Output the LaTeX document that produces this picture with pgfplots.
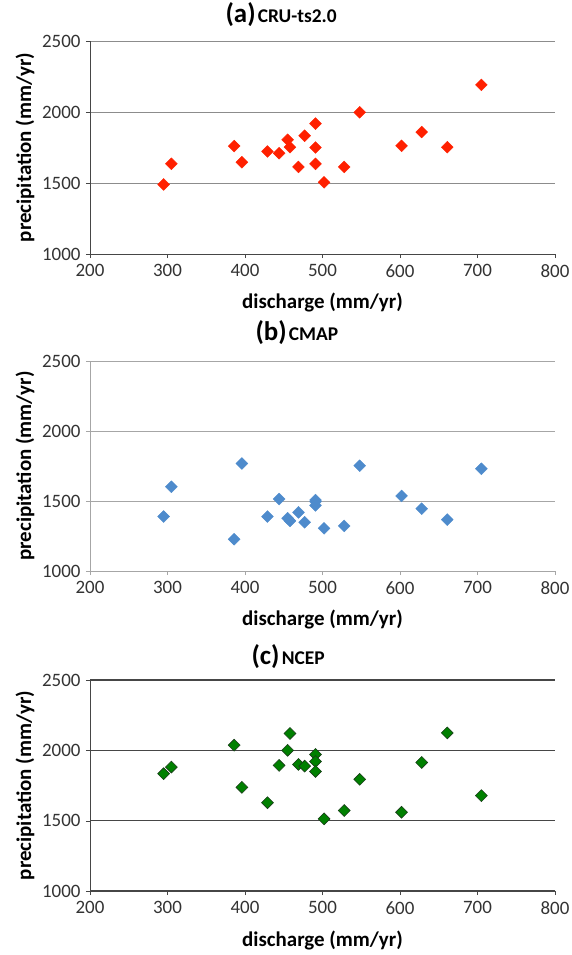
\documentclass[border=0pt]{standalone}
\usepackage{fontspec}
\setmainfont{Carlito}
\usepackage{pgfplots}
\usepackage{pgfplotstable}
\pgfplotsset{compat=1.18}

\definecolor{cru}{RGB}{255,32,0}
\definecolor{cmap}{RGB}{78,139,204}
\definecolor{ncep}{RGB}{0,128,0}
\definecolor{ncepedge}{RGB}{25,60,25}
\definecolor{lgray}{RGB}{166,166,166}
\definecolor{mgray}{RGB}{140,140,140}
\definecolor{dgray}{RGB}{70,70,70}

% discharge vs precipitation, one table per dataset
\pgfplotstableread{
q p
295 1490
305 1635
386 1760
396 1646
429 1722
444 1710
455 1804
458 1752
469 1613
477 1833
491 1918
491 1750
491 1635
502 1505
528 1613
548 1998
602 1762
628 1859
661 1752
705 2191
}\cru
\pgfplotstableread{
q p
295 1389
305 1602
386 1227
396 1768
429 1389
444 1514
455 1377
458 1358
469 1419
477 1348
491 1507
491 1469
491 1495
502 1305
528 1322
548 1752
602 1536
628 1445
661 1367
705 1730
}\cmap
\pgfplotstableread{
q p
295 1834
305 1881
386 2037
396 1737
429 1628
444 1893
455 2000
458 2120
469 1900
477 1888
491 1971
491 1921
491 1850
502 1513
528 1572
548 1794
602 1560
628 1914
661 2124
705 1678
}\ncep

\pgfplotsset{
  panel/.style={
    scale only axis, width=465bp,
    anchor=south west,
    xmin=200, xmax=800, ymin=1000, ymax=2500,
    xtick={200,300,...,800}, ytick={1000,1500,2000,2500},
    axis lines*=left, axis line style={-},
    tick align=outside, major tick length=4bp,
    ymajorgrids,
    /pgf/number format/assume math mode=true,
    /pgf/number format/set thousands separator={},
    tick label style={font=\fontsize{19}{21}\selectfont, text=black!80},
    xticklabel style={yshift=-3bp},
    yticklabel style={xshift=-2bp},
    xlabel={\textbf{discharge (mm/yr)}},
    ylabel={\textbf{precipitation (mm/yr)}},
    label style={font=\fontsize{21}{24}\selectfont},
    xlabel style={at={(axis description cs:0.5,0)},anchor=center,yshift=-49bp},
    ylabel style={at={(axis description cs:-0.14,0.5)},anchor=center},
    clip=false,
  },
  pts/.style={only marks, mark=square*, mark size=4.2bp, mark options={rotate=45}},
}

\newcommand{\ttl}[2]{\textbf{\fontsize{27}{29}\selectfont(#1)} \textbf{\fontsize{19.5}{22}\selectfont #2}}

\begin{document}
\begin{tikzpicture}
\useasboundingbox (0,0) rectangle (572bp,-955bp);

\begin{axis}[panel, at={(90bp,-254bp)}, height=213bp,
  axis line style={dgray}, tick style={dgray}, grid style={mgray, line width=1bp},
  title={\ttl{a}{CRU-ts2.0}},
  title style={at={(axis description cs:0.411,1)},anchor=center,yshift=20bp}]
\addplot[pts, color=cru] table[x=q,y=p] {\cru};
\end{axis}

\begin{axis}[panel, at={(90bp,-571bp)}, height=210bp,
  axis line style={lgray}, tick style={lgray}, grid style={lgray, line width=1bp},
  title={\ttl{b}{CMAP}},
  title style={at={(axis description cs:0.445,1)},anchor=center,yshift=22bp}]
\addplot[pts, color=cmap] table[x=q,y=p] {\cmap};
\end{axis}

\begin{axis}[panel, at={(90bp,-891bp)}, height=211bp,
  axis line style={dgray, line width=1bp}, tick style={dgray}, grid style={dgray, line width=1.1bp},
  title={\ttl{c}{NCEP}},
  title style={at={(axis description cs:0.426,1)},anchor=center,yshift=17bp}]
\addplot[pts, draw=ncepedge, fill=ncep, line width=0.6bp] table[x=q,y=p] {\ncep};
\end{axis}
\end{tikzpicture}
\end{document}
